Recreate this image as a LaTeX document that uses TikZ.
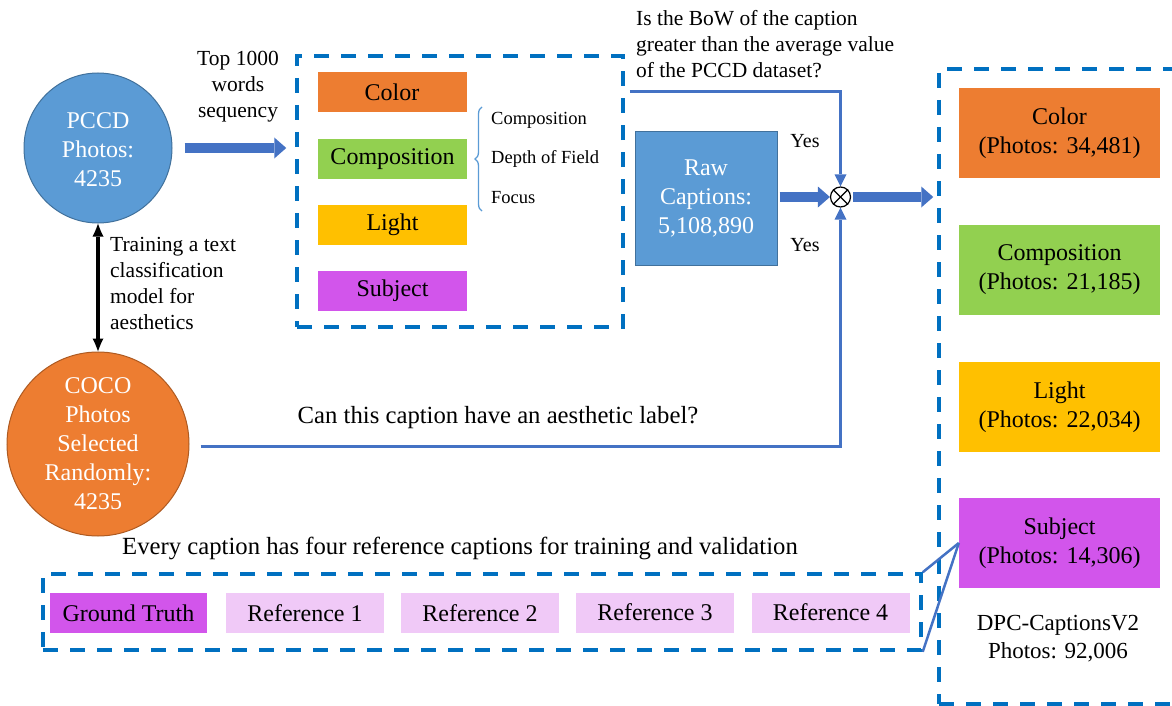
\documentclass[tikz,border=0pt]{standalone}
\usepackage{fontspec}
\setmainfont{Liberation Serif}
\usetikzlibrary{shapes.geometric,arrows.meta,decorations.pathreplacing}
\definecolor{cblue}{HTML}{5B9BD5}
\definecolor{cbord}{HTML}{41719C}
\definecolor{corange}{HTML}{ED7D31}
\definecolor{cobord}{HTML}{AE5A21}
\definecolor{cgreen}{HTML}{92D050}
\definecolor{cyellow}{HTML}{FFC000}
\definecolor{cpurple}{HTML}{D255EB}
\definecolor{cpink}{HTML}{F0C9F7}
\definecolor{dblue}{HTML}{0070C0}
\definecolor{lblue}{HTML}{4472C4}
\begin{document}
\begin{tikzpicture}[x=1pt,y=-1pt,
  big/.style={font=\fontsize{24}{29}\selectfont},
  bigger/.style={font=\fontsize{24.7}{29}\selectfont},
  mid/.style={font=\fontsize{21.5}{26.3}\selectfont},
  small/.style={font=\fontsize{18.5}{22}\selectfont},
  txt/.style={inner sep=0pt},
  catbox/.style={rectangle, inner sep=0pt, minimum width=149pt, minimum height=40pt, big},
  bigbox/.style={rectangle, inner sep=0pt, minimum width=201pt, minimum height=90pt, big, align=center},
  refbox/.style={rectangle, inner sep=0pt, minimum width=158pt, minimum height=40pt, big, fill=cpink},
  dashbox/.style={rectangle, draw=dblue, line width=3.5pt, dash pattern=on 15pt off 12pt, inner sep=0pt},
  blockarrow/.style={draw=lblue, line width=10pt, -{Triangle[length=12pt,width=21pt,line width=0pt]}},
  conn/.style={draw=lblue, line width=3pt, -{Triangle[length=12pt,width=12pt,line width=0pt]}},
  zoomline/.style={draw=lblue, line width=2.5pt}
]
\useasboundingbox (0,0) rectangle (1172,706);
\clip (0,0) rectangle (1172,706);

% circles
\node[ellipse, fill=cblue, draw=cbord, line width=1pt, minimum width=148pt, minimum height=150pt, inner sep=0pt] (pccd) at (98,148) {};
\node[txt, big, text=white, align=center] (pccdt) at (98,150) {PCCD\\Photos:\\4235};
\node[ellipse, fill=corange, draw=cobord, line width=1pt, minimum width=182pt, minimum height=184pt, inner sep=0pt] (coco) at (98,444) {};
\node[txt, big, text=white, align=center] (cocot) at (98,444) {COCO\\Photos\\Selected\\Randomly:\\4235};

\draw[line width=3.3pt, {Latex[length=13pt,width=11pt,line width=0pt]}-{Latex[length=13pt,width=11pt,line width=0pt]}] (pccd.south) -- (coco.north);
\node[txt, mid, align=left, anchor=west] (train) at (110,283.5) {Training a text\\classification\\model for\\aesthetics};

% top 1000 arrow
\node[txt, mid, align=center] (top) at (238,86.5) {Top 1000\\words\\sequency};

% box 1
\node[dashbox, minimum width=326pt, minimum height=271pt] (b1) at (460,191.5) {};
\node[catbox, fill=corange] (col1) at (392,92) {Color};
\node[catbox, fill=cgreen] (comp1) at (392.5,159) {Composition};
\node[catbox, fill=cyellow] (light1) at (392.5,225) {Light};
\node[catbox, fill=cpurple] (subj1) at (392.5,291) {Subject};

\draw[blockarrow, shorten <=12pt, shorten >=9pt] (pccd.east) -- (pccd.east -| b1.west);

\draw[draw=cblue, line width=1.3pt, decorate, decoration={brace, amplitude=7pt}] (482,211) -- (482,107);
\node[txt, small, anchor=west] (s1) at (491,120) {Composition};
\node[txt, small, anchor=west] (s2) at (491,159) {Depth of Field};
\node[txt, small, anchor=west] (s3) at (491,198) {Focus};

% raw captions & combine
\node[rectangle, fill=cblue, draw=cbord, line width=1pt, minimum width=142pt, minimum height=133pt, inner sep=0pt, big, text=white, align=center] (raw) at (706,198.5) {Raw\\Captions:\\5,108,890};
\node[circle, draw=black, line width=1.2pt, fill=white, minimum size=20pt, inner sep=0pt] (ox) at (840.5,197) {};
\draw[line width=1.2pt] (ox.north west) -- (ox.south east);
\draw[line width=1.2pt] (ox.north east) -- (ox.south west);

\node[txt, mid, align=left, anchor=west] (bow) at (636,44) {Is the BoW of the caption\\greater than the average value\\of the PCCD dataset?};
\node[txt, font=\fontsize{20}{24}\selectfont] (yes1) at (805,141) {Yes};
\node[txt, font=\fontsize{20}{24}\selectfont] (yes2) at (805,245) {Yes};

\draw[conn] ([xshift=5pt]b1.east |- col1.center) -| (ox.north);
\draw[conn, shorten <=11pt] (coco.east |- 0,446) -| (ox.south);
\node[txt, bigger] (canq) at (498,418) {Can this caption have an aesthetic label?};

\draw[blockarrow, shorten <=2pt] (raw.east |- ox.west) -- (ox.west);

% box 2
\node[dashbox, minimum width=261pt, minimum height=635pt] (b2) at (1069.5,386.5) {};
\draw[blockarrow, shorten <=2pt, shorten >=4pt] (ox.east) -- (ox.east -| b2.west);
\node[bigbox, fill=corange] (col2) at (1059.5,133) {Color\\(Photos: 34,481)};
\node[bigbox, fill=cgreen] (comp2) at (1059.5,270) {Composition\\(Photos: 21,185)};
\node[bigbox, fill=cyellow] (light2) at (1059.5,407) {Light\\(Photos: 22,034)};
\node[bigbox, fill=cpurple] (subj2) at (1059.5,543) {Subject\\(Photos: 14,306)};
\node[txt, font=\fontsize{23}{28}\selectfont, align=center] (dpc) at (1058,639) {DPC-CaptionsV2\\Photos: 92,006};

% box 3
\node[txt, bigger] (every) at (460,548) {Every caption has four reference captions for training and validation};
\node[dashbox, minimum width=878pt, minimum height=76pt] (b3) at (482,612) {};
\node[refbox, fill=cpurple, minimum width=157pt] (gt) at (128.5,613) {Ground Truth};
\node[refbox] (r1) at (305,613) {Reference 1};
\node[refbox] (r2) at (480,613) {Reference 2};
\node[refbox] (r3) at (655,612.5) {Reference 3};
\node[refbox] (r4) at (830.5,612.5) {Reference 4};

\draw[zoomline] (b3.north east) -- (subj2.west);
\draw[zoomline] (b3.south east) -- (subj2.west);
\end{tikzpicture}
\end{document}
